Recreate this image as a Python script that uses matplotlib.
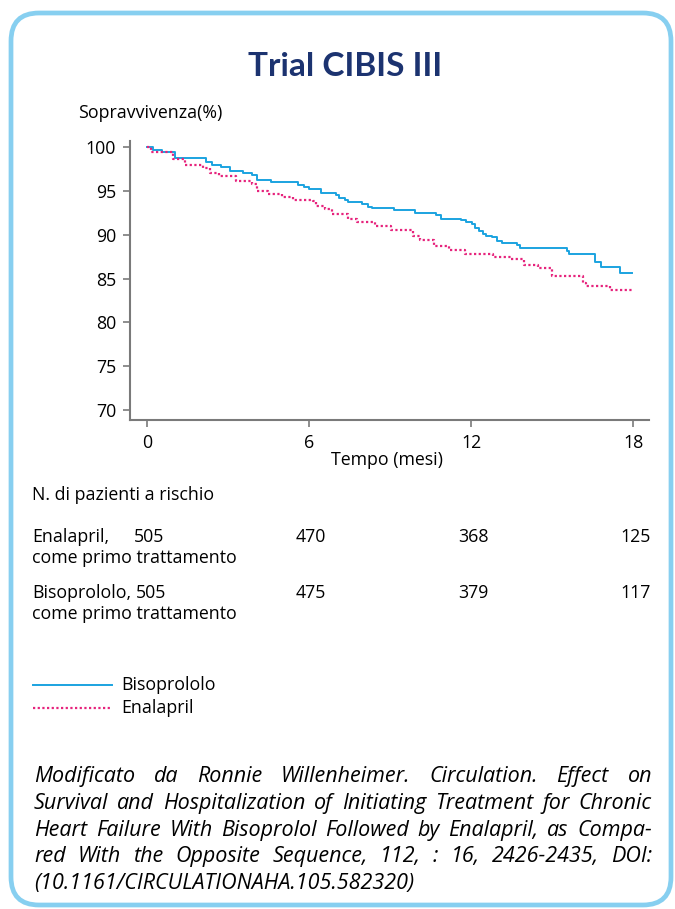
import matplotlib
matplotlib.use("Agg")
from matplotlib import pyplot as plt
from matplotlib.patches import FancyBboxPatch

# Kaplan-Meier curves (months, survival %)
bis_t = [0, 0.23, 0.56, 1.02, 2.18, 2.41, 2.74, 3.08, 3.54, 3.87, 4.07, 4.40, 4.58,
         5.60, 5.80, 5.99, 6.46, 6.99, 7.12, 7.32, 7.45, 7.98, 8.18, 8.32, 9.14, 9.91,
         10.70, 10.90, 11.63, 11.83, 12.03, 12.16, 12.29, 12.43, 12.56, 12.76, 12.96,
         13.16, 13.69, 13.82, 15.54, 15.61, 16.60, 16.80, 17.53, 17.97]
bis_s = [100, 99.7, 99.5, 98.8, 98.3, 98.0, 97.7, 97.3, 97.0, 96.8, 96.3, 96.2, 96.0,
         95.7, 95.4, 95.2, 94.8, 94.5, 94.2, 94.0, 93.7, 93.5, 93.2, 93.0, 92.8, 92.5,
         92.2, 91.8, 91.7, 91.5, 91.2, 90.8, 90.4, 90.1, 89.9, 89.7, 89.3,
         89.0, 88.8, 88.5, 88.1, 87.8, 86.9, 86.3, 85.65, 85.65]

ena_t = [0, 0.16, 0.49, 0.95, 1.42, 2.08, 2.35, 2.68, 3.28, 3.87, 4.07, 4.47, 5.00,
         5.40, 6.13, 6.26, 6.59, 6.86, 7.45, 7.79, 8.45, 9.05, 9.84, 10.11, 10.64,
         11.17, 11.76, 12.82, 13.49, 13.95, 14.48, 15.01, 16.14, 16.27, 17.14, 18.0]
ena_s = [100, 99.5, 99.4, 98.7, 98.0, 97.6, 97.1, 96.7, 96.1, 95.8, 95.0, 94.6, 94.3,
         94.0, 93.8, 93.3, 92.9, 92.4, 91.8, 91.4, 91.0, 90.5, 89.9, 89.4, 88.7,
         88.3, 87.8, 87.5, 87.2, 86.6, 86.2, 85.3, 84.5, 84.2, 83.7, 83.7]

x_ticks = [0, 6, 12, 18]
y_ticks = [70, 75, 80, 85, 90, 95, 100]

risk_ena = [505, 470, 368, 125]
risk_bis = [505, 475, 379, 117]

BLUE = '#1ba3e0'
PINK = '#e6237c'
NAVY = '#1c3370'
GREY = '#7a7a7a'
BODY = ['Open Sans', 'DejaVu Sans']

plt.rcParams['font.family'] = BODY

fig = plt.figure(figsize=(6.75, 9.09), dpi=100)
renderer = fig.canvas.get_renderer()

# background axes in pixel units for the frame and free text
bg = fig.add_axes([0, 0, 1, 1])
bg.set_xlim(0, 675)
bg.set_ylim(909, 0)
bg.axis('off')
bg.add_patch(FancyBboxPatch((11, 13), 660, 892,
                            boxstyle='round,pad=0,rounding_size=28',
                            facecolor='white', edgecolor='#87cff0', linewidth=3.4))


def fit_size(text, target, **kw):
    t = bg.text(0, 0, text, fontsize=10, **kw)
    w = t.get_window_extent(renderer).width
    t.remove()
    return 10 * target / w


fs = fit_size('come primo trattamento', 205)
fs_it = fit_size('Survival and Hospitalization of Initiating Treatment for Chronic',
                 596, style='italic')

bg.text(345, 76, 'Trial CIBIS III', ha='center', va='baseline', fontsize=24,
        fontweight='bold', color=NAVY, family=['Lato', 'DejaVu Sans'])
bg.text(78, 113, 'Sopravvivenza(%)', ha='left', va='center', fontsize=fs)

# survival plot
ax = fig.add_axes([130 / 675, 1 - 420 / 909, 519 / 675, 279 / 909])
ax.step(bis_t, bis_s, where='post', color=BLUE, lw=1.4)
ax.step(ena_t, ena_s, where='post', color=PINK, lw=1.6, linestyle=(0, (1, 1.1)))
ax.set_xlim(-0.63, 18.59)
ax.set_ylim(68.85, 100.7)
ax.set_xticks(x_ticks)
ax.set_yticks(y_ticks)
for s in ['top', 'right']:
    ax.spines[s].set_visible(False)
for s in ['left', 'bottom']:
    ax.spines[s].set_color(GREY)
    ax.spines[s].set_linewidth(1.5)
ax.tick_params(length=5, width=1.2, color=GREY, labelsize=fs, pad=5)
ax.patch.set_alpha(0)

bg.text(387, 460, 'Tempo (mesi)', ha='center', va='center', fontsize=fs)

# patients at risk
bg.text(32, 495, 'N. di pazienti a rischio', ha='left', va='center', fontsize=fs)
rows = [('Enalapril,', risk_ena, 537), ('Bisoprololo,', risk_bis, 593)]
for label, vals, y in rows:
    lab = bg.text(32, y, label, ha='left', va='center', fontsize=fs)
    lab_end = lab.get_window_extent(renderer).x1
    bg.text(32, y + 21, 'come primo trattamento', ha='left', va='center', fontsize=fs)
    for i, v in enumerate(vals):
        px = ax.transData.transform((x_ticks[i], 0))[0]
        t = bg.text(px + 2, y, str(v), ha='center', va='center', fontsize=fs)
        if i == 0:
            ext = t.get_window_extent(renderer)
            if ext.x0 < lab_end + 5:
                t.set_x(lab_end + 5)
                t.set_ha('left')

# legend
bg.plot([33, 112], [685, 685], color=BLUE, lw=1.4)
bg.plot([33, 112], [708, 708], color=PINK, lw=1.6, linestyle=(0, (1, 1.1)))
bg.text(121, 685, 'Bisoprololo', ha='left', va='center', fontsize=fs)
bg.text(121, 708, 'Enalapril', ha='left', va='center', fontsize=fs)

# justified citation
lines = [
    'Modificato da Ronnie Willenheimer. Circulation. Effect on',
    'Survival and Hospitalization of Initiating Treatment for Chronic',
    'Heart Failure With Bisoprolol Followed by Enalapril, as Compa-',
    'red With the Opposite Sequence, 112, : 16,  2426-2435, DOI:',
    '(10.1161/CIRCULATIONAHA.105.582320)',
]
x0, x1 = 34, 652
for k, line in enumerate(lines):
    y = 782 + k * 26.8
    if k == len(lines) - 1:
        bg.text(x0, y, line, ha='left', va='baseline', fontsize=fs_it, style='italic')
        continue
    words = line.split()
    arts = [bg.text(0, y, w, ha='left', va='baseline', fontsize=fs_it, style='italic')
            for w in words]
    widths = [a.get_window_extent(renderer).width for a in arts]
    gap = (x1 - x0 - sum(widths)) / (len(words) - 1)
    xp = x0
    for a, w in zip(arts, widths):
        a.set_x(xp)
        xp += w + gap

fig.savefig('out.png', dpi=100)
